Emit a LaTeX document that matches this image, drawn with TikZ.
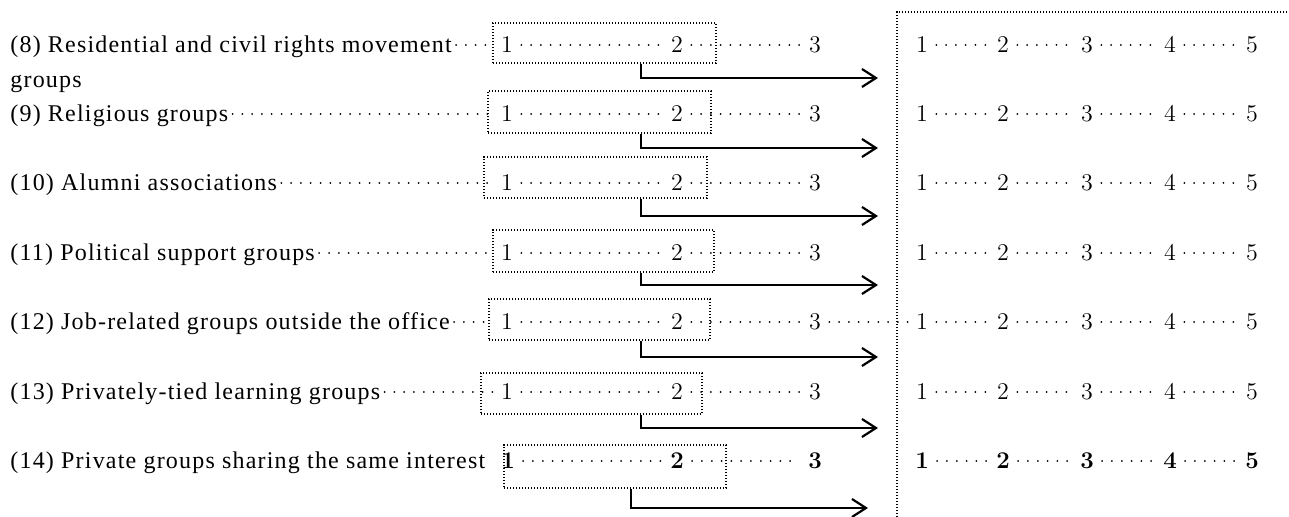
\documentclass[tikz,border=0pt]{standalone}
\usepackage{fontspec}
\usepackage{tikz}
\usetikzlibrary{positioning}
\usetikzlibrary{arrows.meta,fit}
\newfontfamily\labfont[LetterSpace=5]{Liberation Serif}

\begin{document}
\begin{tikzpicture}[x=0.5pt, y=-0.5pt,
	lab/.style={anchor=west, inner xsep=2pt, inner ysep=0pt, text height=7.7pt, text depth=0pt, font=\labfont\fontsize{12}{14}\selectfont},
	num/.style={inner xsep=4pt, inner ysep=0pt, text height=7.7pt, text depth=0pt, font=\fontsize{12}{14}\selectfont},
	boldnum/.style={num, font=\fontsize{12}{14}\selectfont\bfseries},
	leader/.style={line width=1pt, line cap=round, dash pattern=on 0pt off 4.9pt},
	dotbox/.style={draw, inner sep=0pt, line width=0.6pt, dash pattern=on 0.6pt off 0.9pt},
	frame/.style={line width=0.6pt, dash pattern=on 0.6pt off 0.9pt},
	arr/.style={line width=1.1pt, -{Straight Barb[length=7pt,width=9pt]}}]
	
	% ------------------------------------------------
	% Page size of the graphic
	\useasboundingbox (0,0) rectangle (1289,517);
	
	% ------------------------------------------------
	% Frame of the right block
	\coordinate (FrameTop) at (897,12);
	\coordinate (FrameBot) at (897,517);
	\coordinate (FrameEnd) at (1289,12);
	\draw[frame] (FrameBot) -- (FrameTop) -- (FrameEnd);
	
	% ------------------------------------------------
	% Rows (8) to (13)
	\foreach \n/\yc/\txt/\bxa/\bya/\bxb/\byb/\ay in {
		8/45/{(8) Residential and civil rights movement}/493/23/716/63/78,
		9/114/{(9) Religious groups}/488/91/711/133/148,
		10/183/{(10) Alumni associations}/484/157/707/198/216,
		11/253/{(11) Political support groups}/493/230/714/272/285,
		12/322/{(12) Job-related groups outside the office}/489/299/710/340/357,
		13/392/{(13) Privately-tied learning groups}/481/373/702/414/428}{
		
		\node[lab] (Lab\n) at (6,\yc) {\txt};
		\node[num] (One\n) at (507,\yc) {1};
		\node[num] (Two\n) at (677,\yc) {2};
		\node[num] (Three\n) at (815,\yc) {3};
		\draw[leader] (Lab\n) -- (One\n);
		\draw[leader] (One\n) -- (Two\n);
		\draw[leader] (Two\n) -- (Three\n);
		
		\node[dotbox, fit={(\bxa,\bya) (\bxb,\byb)}] (Box\n) {};
		\coordinate (Turn\n) at (641,\ay);
		\coordinate (End\n) at (878,\ay);
		\draw[arr] (Box\n.south -| Turn\n) -- (Turn\n) -- (End\n);
		
		\foreach \d/\rx in {1/922,2/1003,3/1087,4/1170,5/1252}
			\node[num] (R\n-\d) at (\rx,\yc) {\d};
		\foreach \d/\e in {1/2,2/3,3/4,4/5}
			\draw[leader] (R\n-\d) -- (R\n-\e);
	}
	
	% second line of (8)
	\node[lab] (Lab8b) at (6,80) {groups};
	
	% dots of (12) run on into the right block
	\draw[leader] (Three12) -- (R12-1);
	
	% ----------------
	% Row (14), bold marks
	\node[lab] (Lab14) at (6,461) {(14) Private groups sharing the same interest};
	\node[boldnum] (One14) at (508,461) {1};
	\node[boldnum] (Two14) at (677,461) {2};
	\node[boldnum] (Three14) at (815,461) {3};
	\draw[leader] (One14) -- (Two14);
	\draw[leader] (Two14) -- (Three14);
	
	\node[dotbox, fit={(504,445) (726,488)}] (Box14) {};
	\coordinate (Turn14) at (631,508);
	\coordinate (End14) at (868,508);
	\draw[arr] (Box14.south -| Turn14) -- (Turn14) -- (End14);
	
	\foreach \d/\rx in {1/922,2/1003,3/1087,4/1170,5/1252}
		\node[boldnum] (R14-\d) at (\rx,461) {\d};
	\foreach \d/\e in {1/2,2/3,3/4,4/5}
		\draw[leader] (R14-\d) -- (R14-\e);
	
\end{tikzpicture}
\end{document}
